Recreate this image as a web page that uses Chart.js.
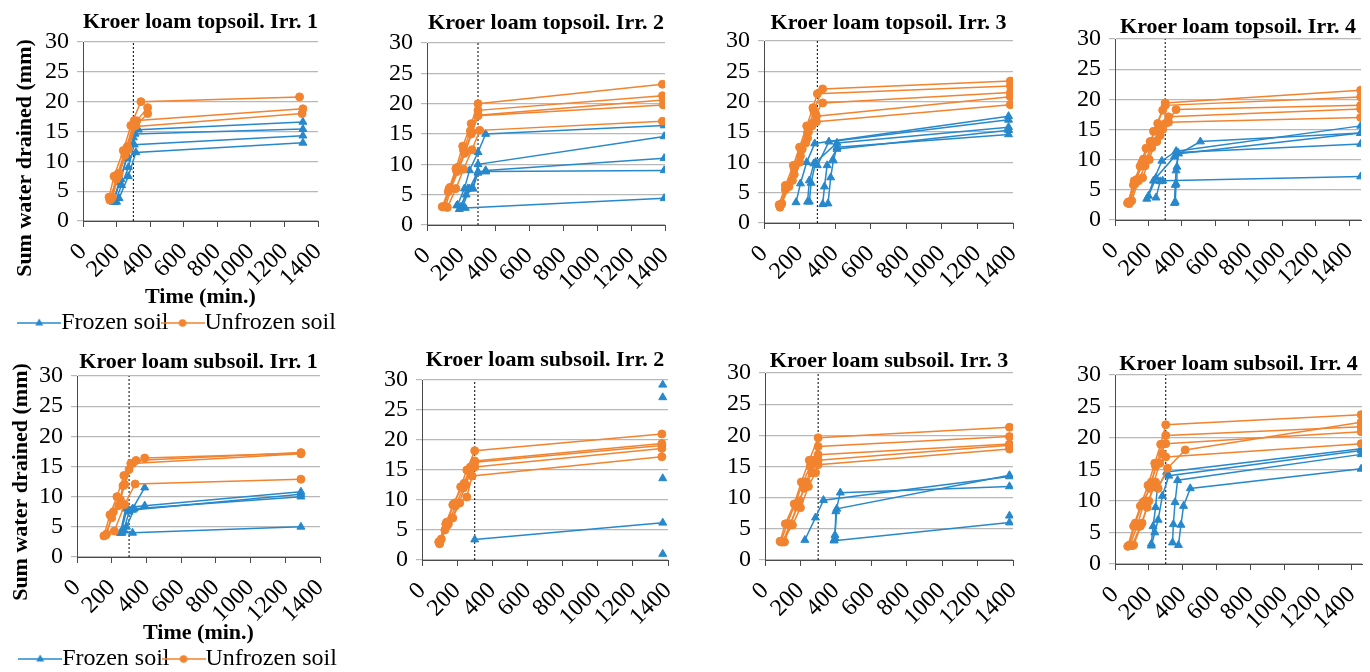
<!DOCTYPE html>
<html>
<head>
<meta charset="utf-8">
<title>Kroer loam drainage</title>
<script src="https://cdn.jsdelivr.net/npm/chart.js@4.4.1/dist/chart.umd.min.js"></script>
<style>
  html, body { margin: 0; padding: 0; background: #fff; overflow: hidden; width: 1370px; height: 672px; }
  canvas { position: absolute; }
</style>
</head>
<body>
<script>
// Sum water drained (mm) against time (min.), one list of [time, mm] pairs per column/sample.

const PANEL_TITLES = [
  "Kroer loam topsoil. Irr. 1", "Kroer loam topsoil. Irr. 2",
  "Kroer loam topsoil. Irr. 3", "Kroer loam topsoil. Irr. 4",
  "Kroer loam subsoil. Irr. 1", "Kroer loam subsoil. Irr. 2",
  "Kroer loam subsoil. Irr. 3", "Kroer loam subsoil. Irr. 4",
];
const LEGEND_NAMES = ["Frozen soil", "Unfrozen soil"];
const X_TITLE = "Time (min.)";
const Y_TITLE = "Sum water drained (mm)";
const X_TICKS = [0, 200, 400, 600, 800, 1000, 1200, 1400];
const Y_TICKS = [0, 5, 10, 15, 20, 25, 30];
const IRRIGATION_STOP = 300; // dotted marker line

const TOP1_UNFROZEN = [
  [[155, 4], [185, 7.5], [240, 11.8], [285, 16], [345, 20], [1290, 20.8]],
  [[165, 3.8], [205, 7.8], [255, 12], [305, 16.8], [1310, 18.8]],
  [[160, 3.5], [200, 7], [250, 11], [300, 15.8], [1305, 18]],
  [[170, 3.8], [210, 7.5], [265, 12.5], [320, 16.8], [385, 19]],
  [[175, 4], [215, 8], [270, 12], [315, 16], [385, 18]],
];
const TOP1_FROZEN = [
  [[180, 3.2], [215, 6.5], [260, 10.5], [300, 14], [330, 15.3], [1310, 16.6]],
  [[185, 3.5], [225, 7], [265, 11], [310, 14.6], [1310, 15.4]],
  [[190, 3.2], [230, 6], [270, 9], [305, 12.8], [1310, 14.3]],
  [[200, 3.2], [215, 3.8], [270, 7.5], [315, 11.5], [1310, 13.1]],
];

const TOP2_UNFROZEN = [
  [[90, 3], [130, 6], [170, 9.3], [210, 13], [260, 16.7], [300, 20], [1385, 23.2]],
  [[100, 3], [135, 6.2], [180, 9.5], [215, 12.3], [255, 15.5], [300, 18.9], [1385, 21.3]],
  [[95, 3], [125, 5.5], [175, 8.8], [220, 11.8], [260, 15], [300, 18.1], [1390, 20.6]],
  [[110, 3], [140, 6], [185, 9], [225, 12], [265, 15.3], [300, 18], [1390, 19.8]],
  [[120, 2.9], [170, 6], [215, 9.2], [265, 12.4], [310, 15.6], [1385, 17.1]],
];
const TOP2_FROZEN = [
  [[180, 3.3], [220, 6], [250, 9], [300, 12], [345, 15], [1395, 16.4]],
  [[200, 3], [240, 6], [270, 6], [300, 10], [1395, 14.6]],
  [[190, 2.6], [230, 5], [270, 6], [300, 8.6], [345, 9], [1395, 11]],
  [[210, 3], [250, 6], [300, 8.8], [345, 8.8], [1395, 9]],
  [[175, 3.2], [225, 2.8], [1395, 4.4]],
];

const TOP3_UNFROZEN = [
  [[85, 3], [120, 6.2], [165, 9.5], [200, 12.5], [240, 16], [275, 19], [300, 21.3], [1385, 22.6]],
  [[90, 2.8], [125, 5.8], [170, 9], [210, 12], [245, 15], [280, 18.5], [330, 22.1], [1385, 23.4]],
  [[95, 3], [130, 6], [175, 9.3], [215, 12.2], [250, 15], [290, 18], [330, 19.8], [1385, 21.5]],
  [[90, 2.6], [120, 5.5], [160, 7], [200, 10], [235, 13.2], [270, 16], [295, 17.6], [1385, 20.8]],
  [[100, 3.2], [140, 6], [170, 8], [205, 11], [245, 14], [275, 16.5], [295, 16.7], [1385, 19.5]],
];
const TOP3_FROZEN = [
  [[180, 3.4], [205, 6.5], [240, 10], [285, 13.1], [1375, 17.6]],
  [[245, 3.5], [255, 7], [280, 9.8], [300, 9.5], [365, 13.4], [1375, 17]],
  [[255, 3.5], [265, 6.6], [290, 10], [410, 13.2], [1375, 15.8]],
  [[330, 3.1], [340, 6], [355, 9.5], [410, 12.2], [1375, 15.3]],
  [[360, 3.2], [375, 7.5], [390, 10.3], [410, 12.5], [1375, 14.6]],
];

const TOP4_UNFROZEN = [
  [[75, 2.8], [110, 5.8], [150, 8.9], [185, 11.9], [215, 13], [255, 16], [300, 19.4], [1468, 21.5]],
  [[80, 3], [115, 6.5], [160, 9.5], [190, 10], [230, 14.7], [285, 18.2], [300, 19], [1468, 20.4]],
  [[90, 3], [130, 6.7], [170, 10.1], [210, 13], [250, 13], [285, 15], [365, 18.3], [1468, 19]],
  [[85, 2.7], [120, 6], [165, 7], [205, 10], [240, 13], [270, 14], [320, 17.1], [1468, 18.4]],
  [[100, 3.2], [140, 6.5], [180, 9], [220, 12], [260, 15], [300, 16], [320, 16.2], [1468, 17]],
];
const TOP4_FROZEN = [
  [[190, 3.5], [230, 6.5], [280, 9.8], [365, 11.4], [1468, 15.6]],
  [[200, 4], [245, 7], [355, 10.5], [510, 13], [1468, 14.4]],
  [[245, 3.7], [270, 6.4], [285, 6.5], [1468, 7.2]],
  [[355, 2.8], [360, 5.8], [365, 8.2], [380, 11], [1468, 14.4]],
  [[360, 3], [365, 6], [370, 8.8], [375, 11.2], [1468, 12.6]],
];

const SUB1_UNFROZEN = [
  [[155, 3.5], [190, 7], [230, 10], [270, 13.5], [310, 15.5], [340, 16], [1290, 17.3]],
  [[165, 3.6], [200, 6.5], [240, 8.5], [265, 11.8], [300, 14.5], [390, 16.4], [1290, 17.2]],
  [[170, 3.8], [210, 7.5], [250, 9.5], [275, 12], [320, 15.5], [1290, 17.1]],
  [[215, 4.3], [275, 8.7], [335, 12.1], [1290, 12.9]],
];
const SUB1_FROZEN = [
  [[250, 4], [280, 8], [320, 8], [390, 11.5]],
  [[255, 4.2], [290, 8.2], [390, 8.5], [1290, 10.8]],
  [[270, 4.5], [300, 7.5], [320, 7.8], [1290, 10.4]],
  [[260, 4], [285, 5], [330, 8], [1290, 10]],
  [[250, 4], [320, 4], [1290, 5]],
];

const SUB2_UNFROZEN = [
  [[95, 3], [135, 6], [185, 9.5], [220, 12.2], [255, 15], [300, 18.2], [1365, 21]],
  [[100, 2.7], [140, 6.3], [175, 9.2], [240, 12.8], [275, 15.5], [300, 16.5], [1365, 19.4]],
  [[105, 3.2], [145, 5.8], [190, 9], [235, 12], [270, 14.8], [300, 16.3], [1365, 19.1]],
  [[110, 3.5], [150, 6], [170, 7], [210, 9.5], [250, 12.5], [285, 15.5], [300, 15.5], [1365, 18.6]],
  [[100, 2.8], [130, 5], [175, 7], [215, 9.5], [255, 10.5], [285, 14], [1365, 17.2]],
];
const SUB2_FROZEN = [
  [[300, 3.4], [1370, 6.2]],
  [[1370, 29.2]],
  [[1370, 27.1]],
  [[1370, 13.6]],
  [[1370, 1.0]],
];

const SUB3_UNFROZEN = [
  [[85, 3], [115, 5.8], [165, 9], [205, 12.5], [250, 16], [300, 19.6], [1380, 21.3]],
  [[90, 2.9], [125, 5.8], [170, 9], [215, 12.5], [255, 15], [300, 18.2], [1380, 19.8]],
  [[100, 2.9], [140, 5.6], [180, 8.5], [220, 11.5], [265, 14], [300, 16.9], [1380, 18.6]],
  [[110, 2.9], [145, 5.8], [195, 9.5], [235, 12.5], [270, 16], [300, 16], [1380, 18.4]],
  [[95, 2.9], [155, 5.6], [200, 8.4], [245, 11.8], [285, 14], [300, 15.3], [1380, 17.8]],
];
const SUB3_FROZEN = [
  [[225, 3.2], [285, 6.8], [330, 9.6], [1380, 13.4]],
  [[395, 3.5], [400, 7.8], [425, 10.8], [1380, 11.8]],
  [[390, 3.2], [395, 4], [405, 8.2], [1380, 13.6]],
  [[390, 3.1], [1380, 6.0]],
  [[1380, 7.1]],
];

const SUB4_UNFROZEN = [
  [[75, 2.8], [110, 6], [150, 9.2], [195, 12.5], [235, 16], [270, 19], [300, 22.1], [1455, 23.7]],
  [[85, 3], [120, 6.5], [165, 9.8], [205, 12], [240, 15.5], [280, 17.5], [300, 20.4], [1455, 21.8]],
  [[90, 3], [130, 6], [175, 10], [215, 13], [250, 16], [280, 19], [300, 19.1], [1455, 21]],
  [[100, 2.9], [150, 6], [190, 9], [230, 13], [265, 16], [300, 17], [1455, 19.1]],
  [[110, 3], [160, 6.5], [200, 10], [240, 13], [255, 12], [310, 15.2], [415, 18.1], [1455, 22.5]],
];
const SUB4_FROZEN = [
  [[215, 3.2], [225, 6], [240, 9], [250, 12], [305, 14.6], [1455, 18.3]],
  [[215, 2.9], [235, 5], [255, 7], [280, 10.8], [318, 14], [1455, 18]],
  [[340, 3.4], [345, 6.3], [355, 9.8], [370, 13.3], [1455, 17.4]],
  [[375, 3], [390, 6.2], [405, 9.2], [445, 12], [1455, 15.1]],
];

const BLUE = "#2788cc";
const ORANGE = "#f2832f";
const GRID = "#b8b8b8";
const AXIS = "#4a4a4a";
const SERIF = '"Liberation Serif", "Times New Roman", serif';

// plot box [left, right, top, bottom] in page pixels, title centre y, x max
const PANELS = [
  { frozen: TOP1_FROZEN, unfrozen: TOP1_UNFROZEN, box: [83, 318, 42, 223], titleY: 22, xMax: 1400, caption: [25, 158] },
  { frozen: TOP2_FROZEN, unfrozen: TOP2_UNFROZEN, box: [427, 665, 43, 225], titleY: 23, xMax: 1400 },
  { frozen: TOP3_FROZEN, unfrozen: TOP3_UNFROZEN, box: [764, 1013, 41, 223], titleY: 23, xMax: 1400 },
  { frozen: TOP4_FROZEN, unfrozen: TOP4_UNFROZEN, box: [1115, 1361, 39, 220], titleY: 27, xMax: 1470 },
  { frozen: SUB1_FROZEN, unfrozen: SUB1_UNFROZEN, box: [77, 320, 376, 559], titleY: 362, xMax: 1400, caption: [21, 482] },
  { frozen: SUB2_FROZEN, unfrozen: SUB2_UNFROZEN, box: [422, 668, 380, 560], titleY: 360, xMax: 1400 },
  { frozen: SUB3_FROZEN, unfrozen: SUB3_UNFROZEN, box: [765, 1013, 373, 560], titleY: 361, xMax: 1400 },
  { frozen: SUB4_FROZEN, unfrozen: SUB4_UNFROZEN, box: [1115, 1362, 374, 564], titleY: 364, xMax: 1460 },
];

function legendSwatch(color, shape) {
  const c = document.createElement("canvas");
  c.width = 44;
  c.height = 14;
  const g = c.getContext("2d");
  g.strokeStyle = color;
  g.fillStyle = color;
  g.lineWidth = 1.5;
  g.beginPath();
  g.moveTo(0, 7);
  g.lineTo(44, 7);
  g.stroke();
  g.beginPath();
  if (shape === "triangle") {
    g.moveTo(22, 2.5);
    g.lineTo(26, 9.5);
    g.lineTo(18, 9.5);
    g.closePath();
  } else {
    g.arc(22, 7, 3.8, 0, Math.PI * 2);
  }
  g.fill();
  return c;
}

const SWATCHES = [legendSwatch(BLUE, "triangle"), legendSwatch(ORANGE, "circle")];

// rotated y caption, placed where the original puts it
const sideCaption = {
  id: "sideCaption",
  afterDraw(chart, args, opts) {
    if (!opts.text) return;
    const { ctx } = chart;
    ctx.save();
    ctx.translate(opts.x, opts.y);
    ctx.rotate(-Math.PI / 2);
    ctx.font = "bold 22px " + SERIF;
    ctx.fillStyle = "#000";
    ctx.textAlign = "center";
    ctx.textBaseline = "middle";
    ctx.fillText(opts.text, 0, 0);
    ctx.restore();
  },
};

function seriesSet(list, color, shape, name) {
  return list.map((pts, i) => ({
    label: i === 0 ? name : "",
    data: pts.map(([x, y]) => ({ x, y })),
    showLine: true,
    borderColor: color,
    backgroundColor: color,
    borderWidth: 1.5,
    pointStyle: shape,
    pointRadius: shape === "triangle" ? 4.6 : 4,
    pointBorderWidth: 1,
    pointBorderColor: color,
    pointBackgroundColor: color,
  }));
}

function buildPanel(p, idx) {
  const [left, right, top, bottom] = p.box;
  const full = !!p.caption;
  const cLeft = full ? 0 : left - 45;
  const cTop = p.titleY - 15;
  const yw = left - cLeft;
  const xh = full ? 86 : 74;
  const legendH = full ? 36 : 0;
  const padRight = full ? 47 : 30;
  const cW = right + padRight - cLeft;
  const cH = bottom + xh + legendH - cTop;

  const canvas = document.createElement("canvas");
  canvas.width = cW;
  canvas.height = cH;
  canvas.style.left = cLeft + "px";
  canvas.style.top = cTop + "px";
  canvas.style.width = cW + "px";
  canvas.style.height = cH + "px";
  document.body.appendChild(canvas);

  const tickFont = { family: SERIF, size: 24 };

  const datasets = [
    ...seriesSet(p.unfrozen, ORANGE, "circle", LEGEND_NAMES[1]),
    ...seriesSet(p.frozen, BLUE, "triangle", LEGEND_NAMES[0]),
    {
      label: "",
      data: [{ x: IRRIGATION_STOP, y: Y_TICKS[0] }, { x: IRRIGATION_STOP, y: Y_TICKS[Y_TICKS.length - 1] }],
      showLine: true,
      borderColor: "#000",
      borderWidth: 1,
      borderDash: [2, 2],
      pointRadius: 0,
    },
  ];

  return new Chart(canvas.getContext("2d"), {
    type: "scatter",
    data: { datasets },
    options: {
      responsive: false,
      animation: false,
      devicePixelRatio: 1,
      layout: { padding: 0 },
      scales: {
        x: {
          type: "linear",
          min: 0,
          max: p.xMax,
          afterBuildTicks: (s) => { s.ticks = X_TICKS.map((v) => ({ value: v })); },
          afterFit: (s) => {
            s.height = xh;
            s.paddingRight = padRight; // room on the right without shrinking the legend box
          },
          ticks: {
            font: tickFont,
            color: "#000",
            minRotation: 45,
            maxRotation: 45,
            autoSkip: false,
            padding: 11,
            callback: (v) => String(v),
          },
          grid: { display: true, drawOnChartArea: false, drawTicks: true, tickLength: 6, color: AXIS },
          border: { display: true, color: AXIS, width: 1 },
          title: {
            display: full,
            text: X_TITLE,
            color: "#000",
            font: { family: SERIF, size: 22, weight: "bold", lineHeight: 1.2 },
            padding: { top: 0, bottom: -4 },
          },
        },
        y: {
          min: 0,
          max: 30,
          afterBuildTicks: (s) => { s.ticks = Y_TICKS.map((v) => ({ value: v })); },
          afterFit: (s) => { s.width = yw; },
          ticks: { font: tickFont, color: "#000", padding: 8, autoSkip: false, callback: (v) => String(v) },
          grid: { color: GRID, lineWidth: 1.2, tickLength: 6 },
          border: { display: true, color: AXIS, width: 1 },
        },
      },
      plugins: {
        title: {
          display: true,
          text: PANEL_TITLES[idx],
          fullSize: false,
          color: "#000",
          font: { family: SERIF, size: 22, weight: "bold", lineHeight: 1 },
          padding: { top: 4, bottom: Math.max(0, top - cTop - 26) },
        },
        legend: {
          display: full,
          position: "bottom",
          labels: {
            usePointStyle: true,
            pointStyleWidth: 20,
            padding: 4,
            color: "#000",
            font: { family: SERIF, size: 24 },
            generateLabels: () =>
              LEGEND_NAMES.map((name, i) => ({
                text: name,
                pointStyle: SWATCHES[i],
                fillStyle: i === 0 ? BLUE : ORANGE,
                strokeStyle: i === 0 ? BLUE : ORANGE,
                lineWidth: 0,
                hidden: false,
                fontColor: "#000",
              })),
          },
        },
        tooltip: { enabled: false },
        sideCaption: full
          ? { text: Y_TITLE, x: p.caption[0] - cLeft, y: p.caption[1] - cTop }
          : { text: "" },
      },
    },
    plugins: [sideCaption],
  });
}

PANELS.forEach(buildPanel);
</script>
</body>
</html>
